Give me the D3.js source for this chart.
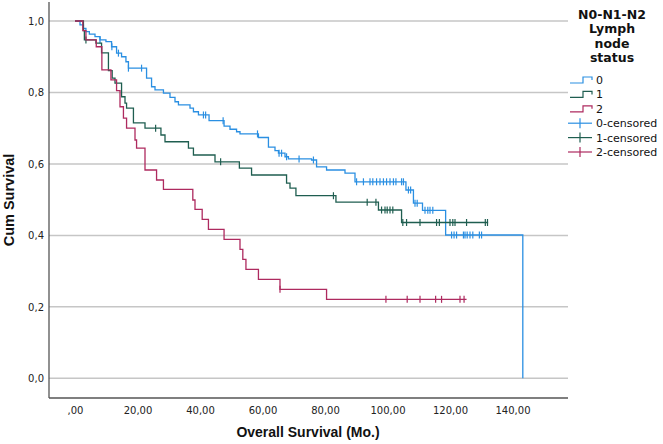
<!DOCTYPE html>
<html><head><meta charset="utf-8">
<script src="https://cdn.jsdelivr.net/npm/d3@7"></script>
<style>body{margin:0;background:#fff}svg{display:block}</style>
</head><body>
<svg id="c" width="663" height="444"></svg>
<script>
// ---- data ----
const groups = ["0", "1", "2"];
const colors = ["#2a8fe2", "#1f5e50", "#ae2a5f"];

const timesG0 = [0, 1.6, 2.7, 3.5, 4.6, 6.4, 8.0, 9.9, 11.7, 13.3, 14.9, 16.3, 17.1, 22.9, 24.5, 25.6, 28.3, 30.4, 32.0, 33.1, 36.8, 37.9, 39.5, 42.9, 47.7, 49.6, 51.7, 52.8, 58.7, 61.9, 64.0, 65.1, 67.2, 68.3, 75.7, 77.3, 80.5, 86.4, 89.6, 105.9, 108.3, 111.2, 118.6, 143.3];
const survG0  = [1.0, .989, .979, .970, .963, .956, .947, .942, .928, .910, .900, .886, .868, .840, .816, .807, .798, .786, .774, .765, .756, .746, .737, .721, .706, .697, .690, .684, .674, .647, .637, .630, .620, .614, .611, .592, .583, .574, .550, .527, .490, .470, .401, 0];
const censG0  = [8.0, 11.8, 13.9, 17.1, 21.3, 41.1, 41.8, 47.4, 58.4, 65.3, 66.1, 67.7, 71.7, 76.3, 90.1, 92.3, 94.4, 95.3, 96.5, 97.6, 98.7, 99.7, 100.8, 101.9, 102.7, 104.5, 105.1, 106.7, 107.4, 108.8, 109.5, 112.0, 112.9, 113.6, 114.5, 120.5, 121.3, 122.1, 124.3, 124.8, 125.5, 126.4, 127.3, 129.4, 130.1];
const endG0 = 143.3;

const timesG1 = [0, 2.7, 3.0, 6.7, 8.5, 10.7, 11.9, 12.8, 14.9, 16.0, 16.5, 18.7, 22.4, 27.5, 28.8, 36.3, 37.9, 44.8, 52.6, 56.5, 67.7, 68.8, 70.7, 83.5, 97.1, 104.5];
const survG1  = [1.0, .973, .947, .938, .911, .861, .840, .826, .788, .770, .756, .715, .700, .681, .662, .644, .625, .606, .588, .569, .546, .532, .511, .493, .471, .436];
const censG1  = [3.5, 25.8, 46.6, 82.7, 93.5, 96.3, 98.1, 99.2, 99.9, 100.8, 101.7, 104.9, 106.1, 110.4, 115.7, 116.6, 120.0, 120.9, 121.6, 125.3, 131.3, 132.0];
const endG1 = 132.2;

const timesG2 = [0, 2.5, 3.5, 6.8, 8.6, 11.5, 13.3, 14.4, 15.5, 16.5, 19.2, 19.7, 22.4, 26.1, 28.3, 37.7, 38.4, 40.7, 42.7, 47.7, 52.8, 53.7, 54.7, 58.7, 65.6, 80.5];
const survG2  = [1.0, .973, .947, .928, .863, .835, .805, .760, .728, .700, .667, .644, .583, .555, .529, .499, .473, .445, .417, .389, .361, .333, .305, .277, .249, .221];
const censG2  = [65.6, 99.5, 106.3, 110.4, 115.4, 117.3, 123.2, 124.5];
const endG2 = 125.3;

const xTicks = [0, 20, 40, 60, 80, 100, 120, 140];
const xTickLabels = [",00", "20,00", "40,00", "60,00", "80,00", "100,00", "120,00", "140,00"];
const yTicks = [0, 0.2, 0.4, 0.6, 0.8, 1.0];
const yTickLabels = ["0,0", "0,2", "0,4", "0,6", "0,8", "1,0"];
const legendTitle = ["N0-N1-N2", "Lymph", "node", "status"];
const legendLabels = ["0", "1", "2", "0-censored", "1-censored", "2-censored"];

// ---- drawing ----
const svg = d3.select("#c");
const x = d3.scaleLinear().domain([0, 140]).range([75, 512.5]);
const y = d3.scaleLinear().domain([0, 1]).range([378.3, 21]);
const plotL = 49, plotR = 568, plotB = 398, plotT = 2;

// gridlines
svg.append("g").selectAll("line").data(yTicks).join("line")
  .attr("x1", plotL).attr("x2", plotR)
  .attr("y1", d => y(d)).attr("y2", d => y(d))
  .attr("stroke", "#c6c6c6").attr("stroke-width", 1.5);

// axes
const yAxis = d3.axisLeft(y).tickValues(yTicks).tickSize(0).tickPadding(5)
  .tickFormat((d, i) => yTickLabels[i]);
const gy = svg.append("g").attr("transform", `translate(${plotL},0)`).call(yAxis);
gy.select(".domain").remove();
gy.selectAll("text").attr("font-family", "DejaVu Sans").attr("font-size", 10).attr("fill", "#222");

const xAxis = d3.axisBottom(x).tickValues(xTicks).tickSize(0).tickPadding(9)
  .tickFormat((d, i) => xTickLabels[i]);
const gx = svg.append("g").attr("transform", `translate(0,${plotB})`).call(xAxis);
gx.select(".domain").remove();
gx.selectAll("text").attr("font-family", "DejaVu Sans").attr("font-size", 10).attr("fill", "#222");

svg.append("line").attr("x1", plotL).attr("x2", plotL).attr("y1", plotT).attr("y2", plotB)
  .attr("stroke", "#555").attr("stroke-width", 1.3);
svg.append("line").attr("x1", plotL).attr("x2", plotR).attr("y1", plotB).attr("y2", plotB)
  .attr("stroke", "#555").attr("stroke-width", 1.3);

// axis titles
svg.append("text").attr("x", 308).attr("y", 437).attr("text-anchor", "middle")
  .attr("font-family", "Liberation Sans").attr("font-weight", "bold").attr("font-size", 14)
  .attr("fill", "#111").text("Overall Survival (Mo.)");
svg.append("text").attr("transform", "translate(14,200) rotate(-90)").attr("text-anchor", "middle")
  .attr("font-family", "Liberation Sans").attr("font-weight", "bold").attr("font-size", 14.5)
  .attr("fill", "#111").text("Cum Survival");

// curves
const series = [
  {t: timesG0, s: survG0, c: censG0, end: endG0},
  {t: timesG1, s: survG1, c: censG1, end: endG1},
  {t: timesG2, s: survG2, c: censG2, end: endG2}
];
const line = d3.line().x(d => x(d[0])).y(d => y(d[1])).curve(d3.curveStepAfter);
function survAt(sr, t) {
  let v = sr.s[0];
  for (let i = 0; i < sr.t.length; i++) if (sr.t[i] <= t) v = sr.s[i];
  return v;
}
series.forEach((sr, gi) => {
  const pts = sr.t.map((t, i) => [t, sr.s[i]]);
  const last = pts[pts.length - 1];
  if (last[0] < sr.end) pts.push([sr.end, last[1]]);
  svg.append("path").attr("d", line(pts)).attr("fill", "none")
    .attr("stroke", colors[gi]).attr("stroke-width", 1.3);
  svg.append("g").selectAll("line").data(sr.c).join("line")
    .attr("x1", d => x(d)).attr("x2", d => x(d))
    .attr("y1", d => y(survAt(sr, d)) - 3.5).attr("y2", d => y(survAt(sr, d)) + 3.5)
    .attr("stroke", colors[gi]).attr("stroke-width", 1.2);
});

// legend
const lg = svg.append("g");
legendTitle.forEach((t, i) => {
  lg.append("text").attr("x", 612).attr("y", 19 + i * 14.3).attr("text-anchor", "middle")
    .attr("font-family", "DejaVu Sans").attr("font-weight", "bold").attr("font-size", 12.5)
    .attr("fill", "#111").text(t);
});
legendLabels.forEach((t, i) => {
  const cy = 80 + i * 14.4;
  const col = colors[i % 3];
  if (i < 3) {
    lg.append("path").attr("d", `M570,${cy + 3}H583V${cy - 3}H592V${cy}`)
      .attr("fill", "none").attr("stroke", col).attr("stroke-width", 1.2);
  } else {
    lg.append("line").attr("x1", 568).attr("x2", 592).attr("y1", cy).attr("y2", cy)
      .attr("stroke", col).attr("stroke-width", 1.2);
    lg.append("line").attr("x1", 580).attr("x2", 580).attr("y1", cy - 5).attr("y2", cy + 5)
      .attr("stroke", col).attr("stroke-width", 1.2);
  }
  lg.append("text").attr("x", 596).attr("y", cy + 4)
    .attr("font-family", "DejaVu Sans").attr("font-size", 11).attr("fill", "#111").text(t);
});
</script>
</body></html>
